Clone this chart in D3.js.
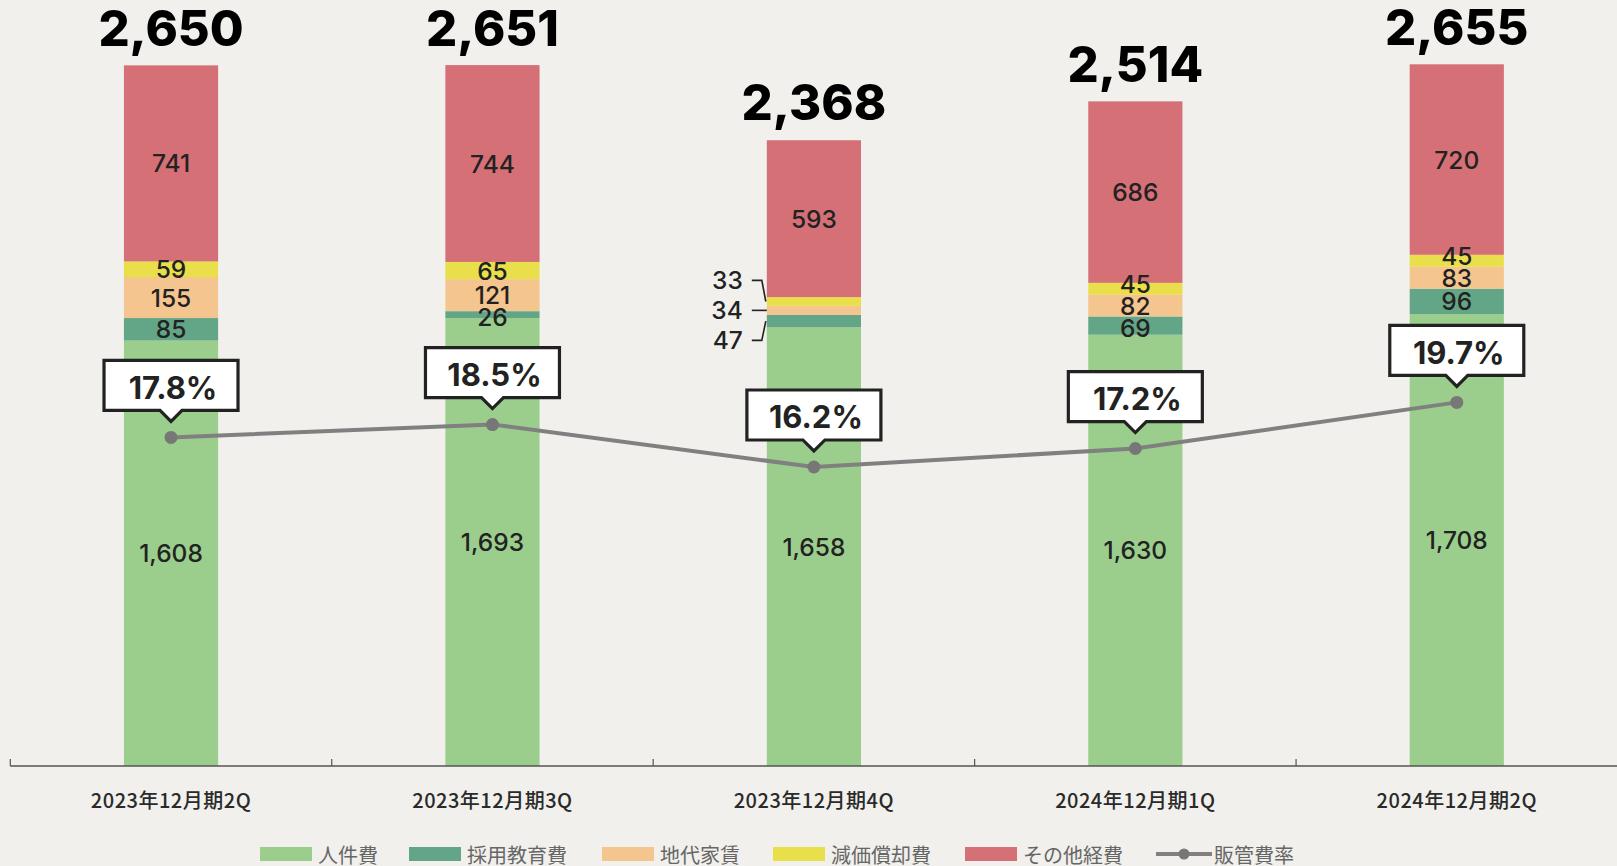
<!DOCTYPE html>
<html>
<head>
<meta charset="utf-8">
<script src="https://d3js.org/d3.v7.min.js"></script>
<style>
  body { margin: 0; background: #f1f0ec; }
  svg { display: block; }
  .jp { font-family: "Noto Sans CJK JP", "Noto Sans", sans-serif; }
  .num { font-family: Inter, "Noto Sans", sans-serif; }
</style>
</head>
<body>
<div id="chart"></div>
<script>
// categories and values (百万円)
var periods = ["2023年12月期2Q", "2023年12月期3Q", "2023年12月期4Q", "2024年12月期1Q", "2024年12月期2Q"];
var seriesNames = ["人件費", "採用教育費", "地代家賃", "減価償却費", "その他経費"];
var personnel = [1608, 1693, 1658, 1630, 1708];
var recruiting = [85, 26, 47, 69, 96];
var rent = [155, 121, 34, 82, 83];
var depreciation = [59, 65, 33, 45, 45];
var otherCost = [741, 744, 593, 686, 720];
var totals = [2650, 2651, 2368, 2514, 2655];
var sgaRatio = [17.8, 18.5, 16.2, 17.2, 19.7];
var lineName = "販管費率";

var colors = ["#9bce8c", "#62a687", "#f4c58e", "#e9df4b", "#d57077"];

var W = 1617, H = 866, base = 766;

var svg = d3.select("#chart").append("svg")
  .attr("width", W).attr("height", H);

svg.append("rect").attr("width", W).attr("height", H).attr("fill", "#f1f0ec");

var x = d3.scaleBand()
  .domain(periods)
  .range([10.3, 1617.5])
  .paddingInner(0.707)
  .paddingOuter(0.3535);

var y = d3.scaleLinear().domain([0, 2895]).range([base, 0]);
var y2 = d3.scaleLinear().domain([0, 41.5]).range([base, 0]);

// build table for stack
var table = periods.map(function(p, i) {
  return { period: p, 0: personnel[i], 1: recruiting[i], 2: rent[i], 3: depreciation[i], 4: otherCost[i] };
});
var stacked = d3.stack().keys([0, 1, 2, 3, 4])(table);

// bars
var layers = svg.append("g").selectAll("g")
  .data(stacked).join("g")
  .attr("fill", function(d, i) { return colors[i]; });

layers.selectAll("rect")
  .data(function(d) { return d; })
  .join("rect")
    .attr("x", function(d) { return x(d.data.period); })
    .attr("y", function(d) { return y(d[1]); })
    .attr("width", x.bandwidth())
    .attr("height", function(d) { return y(d[0]) - y(d[1]); });

// segment labels
var labelG = svg.append("g").attr("class", "num")
  .attr("font-size", 24.5).attr("font-weight", 450).attr("fill", "#222");

periods.forEach(function(p, i) {
  var cx = x(p) + x.bandwidth() / 2;
  var segs = stacked.map(function(s, k) {
    var d = s[i];
    return { k: k, v: d[1] - d[0], c: (y(d[0]) + y(d[1])) / 2 };
  });

  if (i === 2) {
    // thin segments: labels out to the left with leader lines
    labelG.append("text").attr("x", cx).attr("y", segs[0].c)
      .attr("text-anchor", "middle").attr("dominant-baseline", "central").text(d3.format(",")(segs[0].v));
    labelG.append("text").attr("x", cx).attr("y", segs[4].c)
      .attr("text-anchor", "middle").attr("dominant-baseline", "central").text(d3.format(",")(segs[4].v));
    var left = x(p);
    var small = [segs[3], segs[2], segs[1]];
    var mid = small[1].c;
    small.forEach(function(s, j) {
      var ly = mid + (j - 1) * 30;
      labelG.append("text").attr("x", left - 24).attr("y", ly)
        .attr("text-anchor", "end").attr("dominant-baseline", "central").text(s.v);
      var path = j === 1
        ? "M" + (left - 15) + "," + ly + "H" + left
        : "M" + (left - 15) + "," + ly + "H" + (left - 5) + "L" + (left - 1) + "," + s.c;
      svg.append("path").attr("d", path).attr("fill", "none")
        .attr("stroke", "#222").attr("stroke-width", 1.6);
    });
    return;
  }

  // label positions, nudged apart when too close
  var pos = segs.map(function(s) { return s.c; });
  for (var k = 1; k < 4; k++) {
    var gap = pos[k - 1] - pos[k];
    if (gap < 22) {
      if (segs[k].v < segs[k - 1].v) pos[k] = pos[k - 1] - 22;
      else pos[k - 1] = pos[k] + 22;
    }
  }
  segs.forEach(function(s, k) {
    labelG.append("text").attr("x", cx).attr("y", pos[k])
      .attr("text-anchor", "middle").attr("dominant-baseline", "central")
      .text(d3.format(",")(s.v));
  });
});

// totals
svg.append("g").selectAll("text")
  .data(totals).join("text")
    .attr("class", "num")
    .attr("x", function(d, i) { return x(periods[i]) + x.bandwidth() / 2; })
    .attr("y", function(d) { return y(d) - 19; })
    .attr("text-anchor", "middle")
    .attr("font-size", 49).attr("font-weight", 800).attr("fill", "#000")
    .text(function(d) { return d3.format(",")(d); });

// axis
svg.append("line").attr("x1", 10.3).attr("x2", W).attr("y1", base).attr("y2", base)
  .attr("stroke", "#555").attr("stroke-width", 1.5);
var bounds = periods.map(function(p) { return x(p) - x.step() * x.paddingInner() / 2; });
svg.append("g").selectAll("line").data(bounds).join("line")
  .attr("x1", function(d) { return d; }).attr("x2", function(d) { return d; })
  .attr("y1", base).attr("y2", base - 7)
  .attr("stroke", "#555").attr("stroke-width", 1.2);

var xAxis = svg.append("g")
  .attr("transform", "translate(0," + base + ")")
  .call(d3.axisBottom(x).tickSize(0).tickPadding(28));
xAxis.select(".domain").remove();
xAxis.selectAll("text")
  .attr("class", "jp")
  .attr("font-size", 20).attr("font-weight", 500).attr("fill", "#2a2a2a")
  .style("letter-spacing", "0.5px");

// line
var pts = sgaRatio.map(function(v, i) { return [x(periods[i]) + x.bandwidth() / 2, y2(v)]; });
svg.append("path")
  .attr("d", d3.line()(pts))
  .attr("fill", "none").attr("stroke", "#808080").attr("stroke-width", 4);
svg.append("g").selectAll("circle").data(pts).join("circle")
  .attr("cx", function(d) { return d[0]; }).attr("cy", function(d) { return d[1]; })
  .attr("r", 6.5).attr("fill", "#777");

// callouts
var bw = 134, bh = 50, nh = 11, nw = 11;
pts.forEach(function(pt, i) {
  var cx = pt[0], b = pt[1] - 27, t = b - bh, l = cx - bw / 2, r = cx + bw / 2;
  svg.append("path")
    .attr("d", "M" + l + "," + t + "H" + r + "V" + b + "H" + (cx + nw) + "L" + cx + "," + (b + nh) +
      "L" + (cx - nw) + "," + b + "H" + l + "Z")
    .attr("fill", "#fff").attr("stroke", "#222").attr("stroke-width", 3.2);
  svg.append("text").attr("class", "num")
    .attr("x", cx + 2).attr("y", (t + b) / 2 + 2)
    .attr("text-anchor", "middle").attr("dominant-baseline", "central")
    .attr("font-size", 31).attr("font-weight", 700).attr("fill", "#222")
    .text(sgaRatio[i].toFixed(1) + "%");
});

// legend
var legendX = [260, 409, 602, 773, 965, 1156];
var lg = svg.append("g").attr("class", "jp").attr("font-size", 20).attr("fill", "#666");
var ly = 854;
seriesNames.forEach(function(n, i) {
  lg.append("rect").attr("x", legendX[i]).attr("y", ly - 7).attr("width", 52).attr("height", 14).attr("fill", colors[i]);
  lg.append("text").attr("x", legendX[i] + 58).attr("y", ly).attr("dominant-baseline", "central").text(n);
});
var lx = legendX[5];
lg.append("line").attr("x1", lx).attr("x2", lx + 56).attr("y1", ly).attr("y2", ly)
  .attr("stroke", "#808080").attr("stroke-width", 4);
lg.append("circle").attr("cx", lx + 28).attr("cy", ly).attr("r", 5.5).attr("fill", "#777");
lg.append("text").attr("x", lx + 58).attr("y", ly).attr("dominant-baseline", "central").text(lineName);
</script>
</body>
</html>
